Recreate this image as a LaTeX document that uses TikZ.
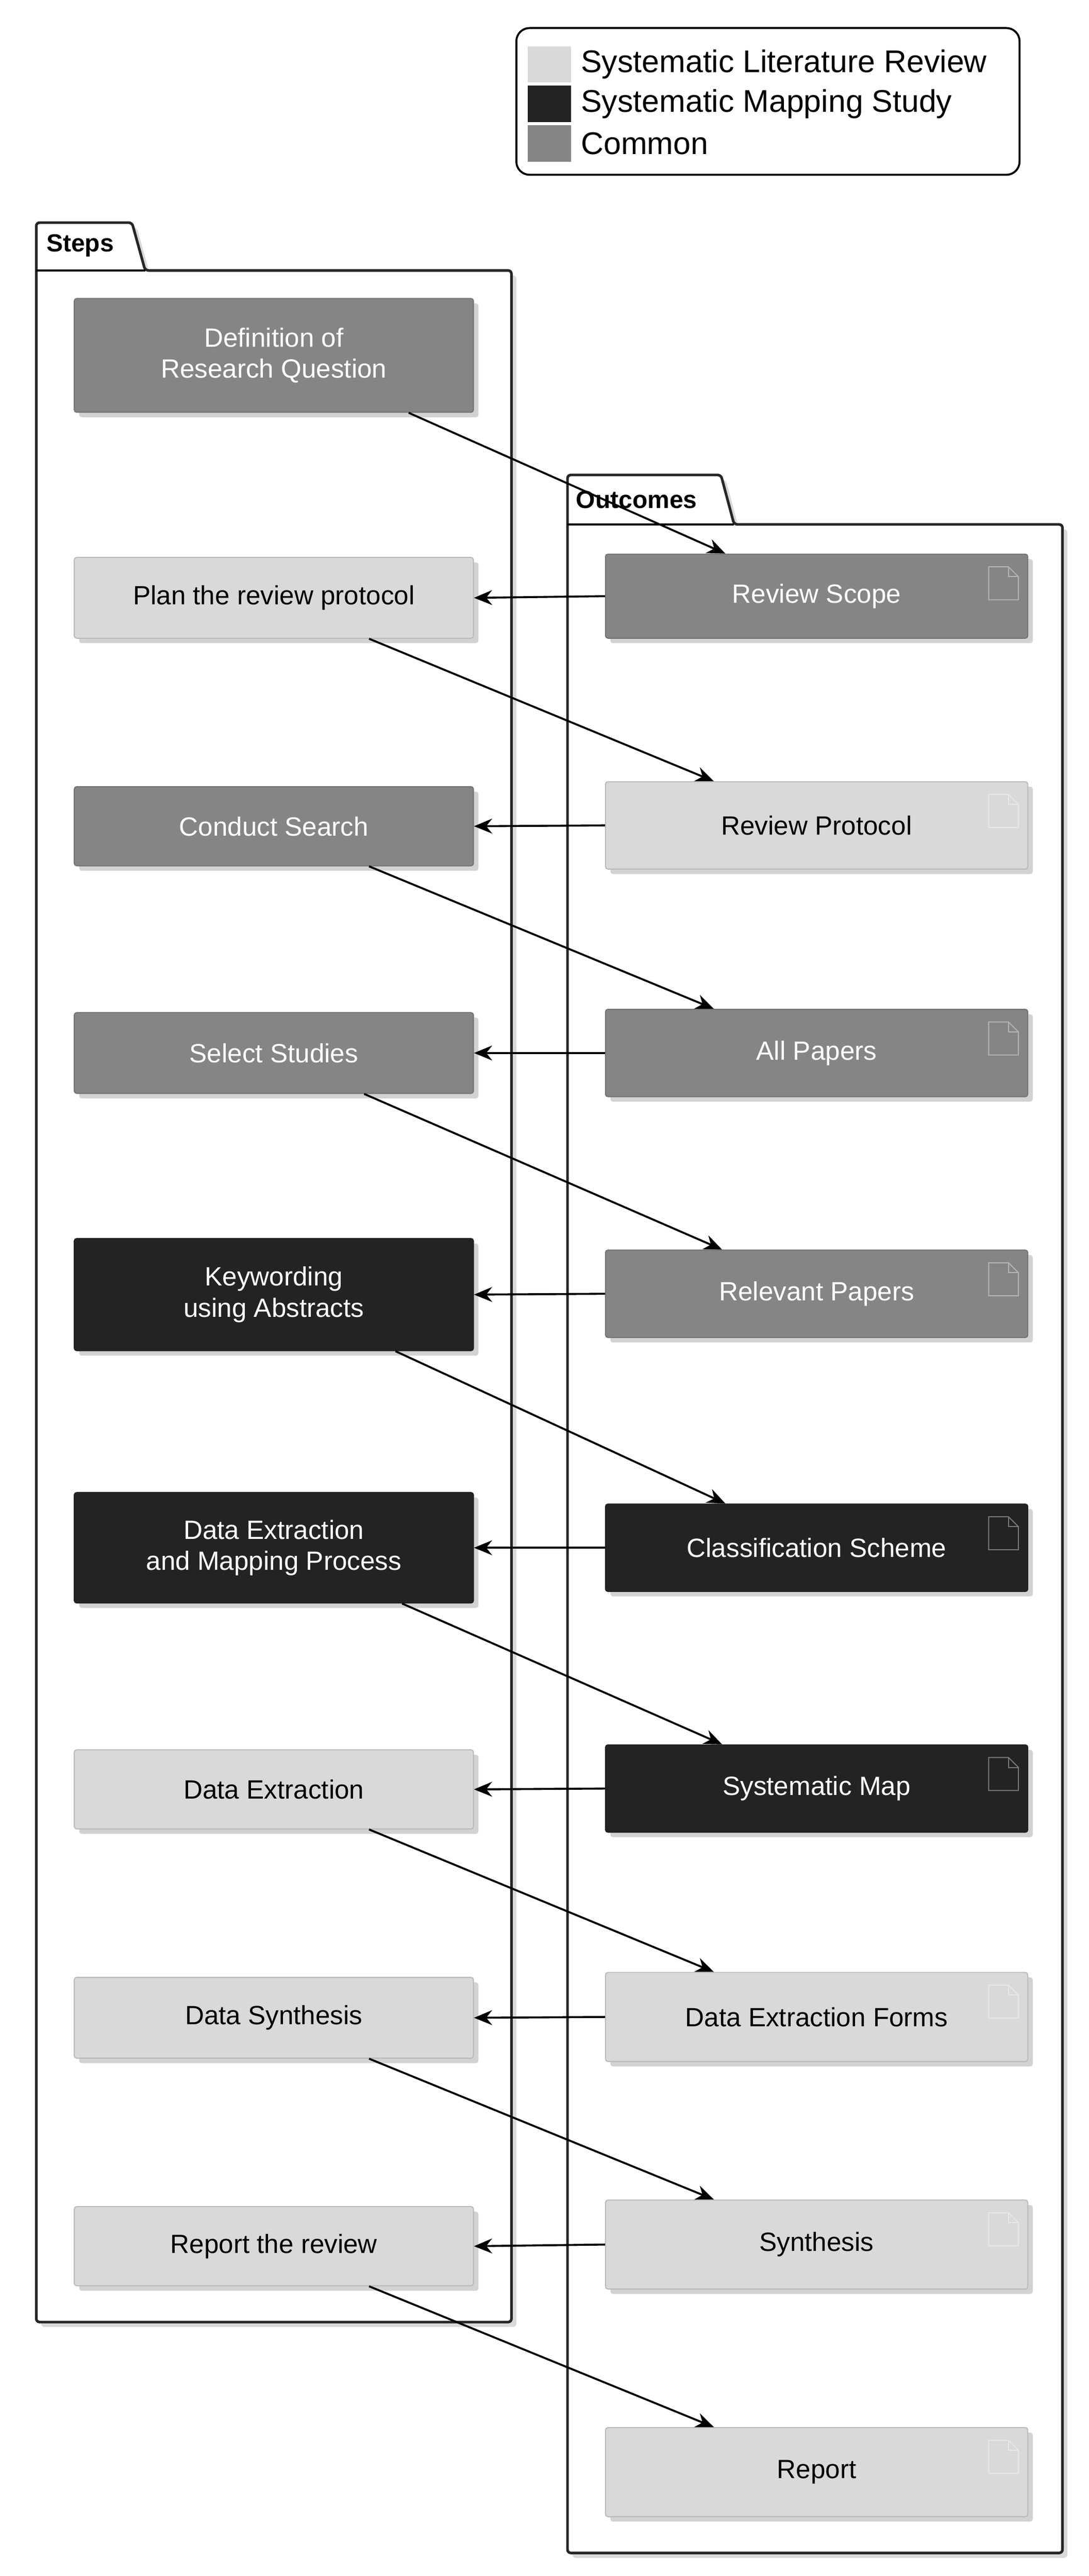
\documentclass[tikz,border=0pt]{standalone}
\usepackage{fontspec}
\setmainfont{Liberation Sans}
\usetikzlibrary{shadows,calc,arrows.meta}
\definecolor{lg}{HTML}{D9D9D9}
\definecolor{mg}{HTML}{858585}
\definecolor{dg}{HTML}{232323}
\begin{document}
\begin{tikzpicture}[x=1pt,y=-1pt,
  box/.style={draw=#1!85!black,fill=#1,line width=0.6pt,rounded corners=1.5pt,drop shadow={opacity=0.35,shadow xshift=3pt,shadow yshift=-3pt},align=center,font=\fontsize{16}{19}\selectfont,inner sep=0pt},
  st/.style={box=#1,minimum width=242pt},
  oc/.style={box=#1,minimum width=256pt},
  wt/.style={text=white},
  pkg/.style={draw=black!85,line width=1.6pt,fill=white,rounded corners=2pt,drop shadow={opacity=0.3,shadow xshift=3pt,shadow yshift=-3pt}},
  arr/.style={-{Stealth[length=11pt,width=9pt]},line width=1.2pt}]
\useasboundingbox (0,0) rectangle (660,1562);
% legend
\draw[line width=1.2pt,rounded corners=8pt,fill=white] (313,17) rectangle (618,106);
\fill[lg] (320,28) rectangle (346,50);
\fill[dg] (320,52) rectangle (346,74);
\fill[mg] (320,76) rectangle (346,98);
\node[anchor=west,font=\fontsize{19}{22}\selectfont,inner sep=0pt] (l1) at (352,39) {Systematic Literature Review};
\node[anchor=west,font=\fontsize{19}{22}\selectfont,inner sep=0pt] (l2) at (352,63) {Systematic Mapping Study};
\node[anchor=west,font=\fontsize{19}{22}\selectfont,inner sep=0pt] (l3) at (352,87) {Common};
% packages
\draw[pkg] (22,164) -- (22,135) -- (80,135) -- (88,164) -- (310,164) -- (310,1408) -- (22,1408) -- cycle;
\draw[line width=1.2pt] (22,164) -- (88,164);
\node[anchor=west,font=\fontsize{15}{18}\selectfont\bfseries,inner sep=0pt] (pt1) at (28,149) {Steps};
\draw[pkg] (344,318) -- (344,288) -- (437,288) -- (445,318) -- (644,318) -- (644,1548) -- (344,1548) -- cycle;
\draw[line width=1.2pt] (344,318) -- (445,318);
% steps
\node[st=mg,wt,minimum height=69pt] (s1) at (166,215.5) {Definition of\\Research Question};
\node[st=lg,minimum height=49pt] (s2) at (166,362.5) {Plan the review protocol};
\node[st=mg,wt,minimum height=48pt] (s3) at (166,501) {Conduct Search};
\node[st=mg,wt,minimum height=49pt] (s4) at (166,638.5) {Select Studies};
\node[st=dg,wt,minimum height=68pt] (s5) at (166,785) {Keywording\\using Abstracts};
\node[st=dg,wt,minimum height=67pt] (s6) at (166,938.5) {Data Extraction\\and Mapping Process};
\node[st=lg,minimum height=48pt] (s7) at (166,1085) {Data Extraction};
\node[st=lg,minimum height=49pt] (s8) at (166,1223.5) {Data Synthesis};
\node[st=lg,minimum height=48pt] (s9) at (166,1362) {Report the review};
% outcomes
\node[oc=mg,wt,minimum height=51pt] (o1) at (495,361.5) {Review Scope};
\node[oc=lg,minimum height=53pt] (o2) at (495,500.5) {Review Protocol};
\node[oc=mg,wt,minimum height=53pt] (o3) at (495,638.5) {All Papers};
\node[oc=mg,wt,minimum height=53pt] (o4) at (495,784.5) {Relevant Papers};
\node[oc=dg,wt,minimum height=53pt] (o5) at (495,938.5) {Classification Scheme};
\node[oc=dg,wt,minimum height=53pt] (o6) at (495,1084.5) {Systematic Map};
\node[oc=lg,minimum height=54pt] (o7) at (495,1223) {Data Extraction Forms};
\node[oc=lg,minimum height=54pt] (o8) at (495,1361) {Synthesis};
\node[oc=lg,minimum height=54pt] (o9) at (495,1499) {Report};
% document icons
\foreach \o/\c in {o1/mg,o2/lg,o3/mg,o4/mg,o5/dg,o6/dg,o7/lg,o8/lg,o9/lg}{
  \draw[line width=0.6pt,draw=\c!60!white,fill=\c] ($(\o.north east)+(-24,8)$) -- ($(\o.north east)+(-12,8)$) -- ($(\o.north east)+(-6,14)$) -- ($(\o.north east)+(-6,28)$) -- ($(\o.north east)+(-24,28)$) -- cycle;
  \draw[line width=0.6pt,draw=\c!60!white] ($(\o.north east)+(-12,8)$) -- ($(\o.north east)+(-12,14)$) -- ($(\o.north east)+(-6,14)$);
}
% horizontal arrows
\foreach \i in {1,...,8}{
  \pgfmathtruncatemacro{\j}{\i+1}
  \draw[arr] (o\i.west) -- (s\j.east);
}
% diagonal arrows
\draw[arr] ($(s1.south west)+(203,0)$) -- ($(o1.north west)+(73,0)$);
\draw[arr] ($(s2.south west)+(179,0)$) -- ($(o2.north west)+(66,0)$);
\draw[arr] ($(s3.south west)+(179,0)$) -- ($(o3.north west)+(66,0)$);
\draw[arr] ($(s4.south west)+(176,0)$) -- ($(o4.north west)+(71,0)$);
\draw[arr] ($(s5.south west)+(195,0)$) -- ($(o5.north west)+(73,0)$);
\draw[arr] ($(s6.south west)+(199,0)$) -- ($(o6.north west)+(71,0)$);
\draw[arr] ($(s7.south west)+(179,0)$) -- ($(o7.north west)+(66,0)$);
\draw[arr] ($(s8.south west)+(179,0)$) -- ($(o8.north west)+(66,0)$);
\draw[arr] ($(s9.south west)+(179,0)$) -- ($(o9.north west)+(66,0)$);
% outcomes tab label drawn last (overlaps arrow as in reference)
\node[anchor=west,font=\fontsize{15}{18}\selectfont\bfseries,inner sep=0pt] (pt2) at (349,303) {Outcomes};
\end{tikzpicture}
\end{document}
